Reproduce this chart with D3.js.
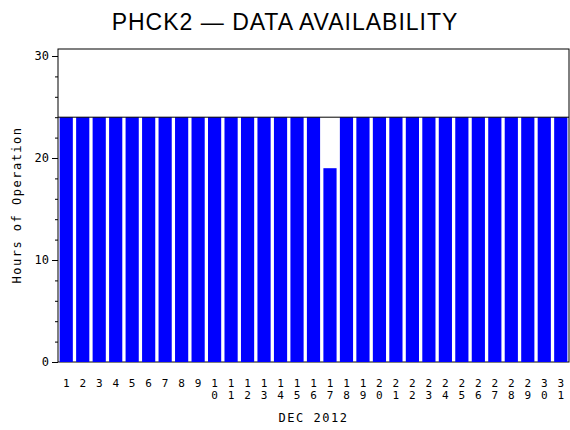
<!DOCTYPE html><html><head><script src="https://d3js.org/d3.v7.min.js"></script>
<style>body{margin:0;background:#fff}</style></head><body><svg id="c" width="570" height="430"></svg>
<script>
const days = d3.range(1,32).map(String);
const hours = days.map(d => d==="17" ? 19 : 24);
const yTicks = [0,10,20,30];
const title = "PHCK2 \u2014 DATA AVAILABILITY";
const xTitle = "DEC 2012";
const yTitle = "Hours of Operation";

const svg = d3.select("#c");
const L=58,R=569,T=49,B=362;
const x = d3.scaleBand().domain(days).range([L,R]).paddingInner(0.2).paddingOuter(0.1);
const y = d3.scaleLinear().domain([0,30]).range([B,56]);
const f = "DejaVu Sans Mono, monospace";

svg.append("text").attr("x",285).attr("y",30).attr("text-anchor","middle")
  .attr("font-family","Liberation Sans, Arial, sans-serif").attr("font-size",23).attr("letter-spacing",1).text(title);

svg.append("rect").attr("x",L).attr("y",T).attr("width",R-L).attr("height",B-T)
  .attr("fill","none").attr("stroke","#000");

svg.selectAll(".bar").data(days).join("rect")
  .attr("x",d=>x(d)).attr("width",x.bandwidth())
  .attr("y",(d,i)=>y(hours[i])).attr("height",(d,i)=>B-y(hours[i])).attr("fill","#0000ff");

svg.append("line").attr("x1",L).attr("x2",R).attr("y1",y(24)).attr("y2",y(24)).attr("stroke","#000");

const ya = svg.append("g").attr("transform",`translate(${L},0)`);
ya.call(d3.axisLeft(y).tickValues(d3.range(0,31,2)).tickSize(3).tickFormat(""));
ya.call(g=>g.select(".domain").remove());
const ya2 = svg.append("g").attr("transform",`translate(${L},0)`).call(d3.axisLeft(y).tickValues(yTicks).tickSize(6).tickPadding(3));
ya2.select(".domain").remove();
ya2.selectAll("text").attr("font-family",f).attr("font-size",12);

const xl = svg.append("g");
days.forEach(d=>{
  const cx = x(d)+x.bandwidth()/2;
  d.split("").forEach((ch,k)=>{
    xl.append("text").attr("x",cx).attr("y",387+k*12).attr("text-anchor","middle")
      .attr("font-family",f).attr("font-size",11).text(ch);
  });
});
svg.append("text").attr("x",(L+R)/2).attr("y",422).attr("text-anchor","middle")
  .attr("font-family",f).attr("font-size",12).attr("letter-spacing",1.5).text(xTitle);
svg.append("text").attr("transform","translate(21,205) rotate(-90)").attr("text-anchor","middle")
  .attr("font-family",f).attr("font-size",12).attr("letter-spacing",1.5).text(yTitle);
</script></body></html>
